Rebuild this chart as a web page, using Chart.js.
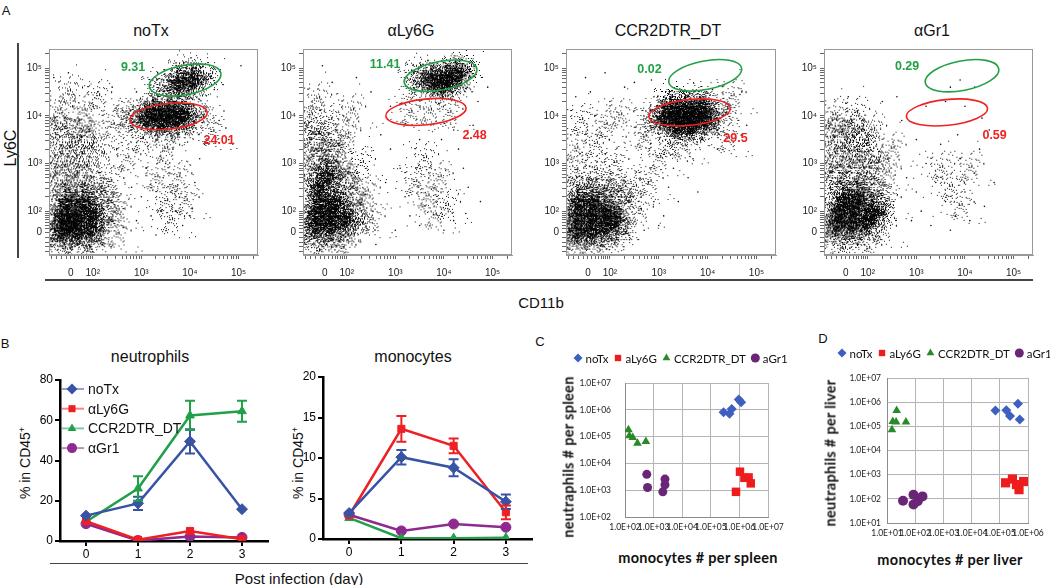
<!DOCTYPE html>
<html>
<head>
<meta charset="utf-8">
<title>Ly6C / CD11b gating and counts</title>
<script src="https://cdn.jsdelivr.net/npm/chart.js@4.4.1/dist/chart.umd.min.js"></script>
<style>
  html, body { margin: 0; padding: 0; background: #fff; }
  body { position: relative; width: 1050px; height: 585px; overflow: hidden;
         font-family: 'Liberation Sans', Arial, sans-serif; color: #111; }
  canvas, .t, .line { position: absolute; }
  .t { transform: translate(-50%, -50%); white-space: nowrap; }
  .rot { transform: translate(-50%, -50%) rotate(-90deg); }
  .xl { font-family: Lato, 'Open Sans', sans-serif; font-weight: bold; font-size: 14.5px; letter-spacing: 0.3px; }
  .line { background: #444; }
</style>
</head>
<body>
<!-- panel A -->
<div class="t" style="left:6px;top:10px;font-size:13px">A</div>
<div class="t" style="left:151px;top:31px;font-size:16px">noTx</div>
<div class="t" style="left:411px;top:31px;font-size:16px">αLy6G</div>
<div class="t" style="left:668px;top:31px;font-size:16px">CCR2DTR_DT</div>
<div class="t" style="left:932px;top:31px;font-size:16px">αGr1</div>
<div class="t rot" style="left:11px;top:148px;font-size:16px">Ly6C</div>
<div class="line" style="left:17px;top:43px;width:1.5px;height:215px"></div>
<div class="line" style="left:45px;top:279px;width:988px;height:1.5px"></div>
<div class="t" style="left:541px;top:302px;font-size:15px">CD11b</div>
<canvas id="flow1" width="257" height="240" style="left:9px;top:40px"></canvas>
<canvas id="flow2" width="257" height="240" style="left:263px;top:40px"></canvas>
<canvas id="flow3" width="258" height="240" style="left:526px;top:40px"></canvas>
<canvas id="flow4" width="257" height="240" style="left:784px;top:40px"></canvas>

<!-- panel B -->
<div class="t" style="left:5px;top:343px;font-size:13px">B</div>
<div class="t" style="left:150px;top:357px;font-size:16px">neutrophils</div>
<div class="t" style="left:413px;top:357px;font-size:16px">monocytes</div>
<div class="t rot" style="left:25px;top:463px;font-size:14px">% in CD45<sup style="font-size:9px">+</sup></div>
<div class="t rot" style="left:298px;top:463px;font-size:14px">% in CD45<sup style="font-size:9px">+</sup></div>
<div class="line" style="left:50px;top:563px;width:478px;height:1px"></div>
<div class="t" style="left:299px;top:578px;font-size:15px">Post infection (day)</div>
<canvas id="neuChart" width="272" height="193" style="left:0px;top:370px"></canvas>
<canvas id="monoChart" width="273" height="194" style="left:263px;top:367px"></canvas>

<!-- panel C / D -->
<div class="t" style="left:540px;top:341px;font-size:13px">C</div>
<div class="t" style="left:823px;top:338px;font-size:13px">D</div>
<canvas id="spleenChart" width="284" height="192" style="left:540px;top:345px"></canvas>
<canvas id="liverChart" width="214" height="203" style="left:836px;top:340px"></canvas>
<div class="t rot xl" style="left:568px;top:457px">neutraphils # per spleen</div>
<div class="t xl" style="left:698px;top:557px">monocytes # per spleen</div>
<div class="t rot xl" style="left:830px;top:453px">neutraphils # per liver</div>
<div class="t xl" style="left:950px;top:559px">monocytes # per liver</div>

<script>
'use strict';

// ===== DATA =====

// flow plots: axis in display decades (0 sits at 1.55)
const FLOW_MAJOR = [1.55, 2, 3, 4, 5];
const FLOW_MAJOR_LABELS = ['0', '10²', '10³', '10⁴', '10⁵'];
const FLOW_LOW_MINOR = [1.15, 1.25, 1.35, 1.45, 1.63, 1.7, 1.76, 1.82, 1.87, 1.91, 1.95];

// event clouds [CD11b, Ly6C], grouped by density
const NOTX_SPARSE = [[1.3,4.1],[1.8,4.1],[2.2,3.2],[2.35,2.6],[2.5,2.0],[2.5,1.5],[1.4,1.2],[1.9,1.2],[2.4,3.8],[2.7,3.1],[2.7,4.0],[3.0,3.5],[4.45,3.65],[3.5,3.3],[3.3,2.7],[3.75,2.7],[3.5,2.2],[3.9,2.2],[3.6,1.8],[2.1,4.4],[1.5,4.5]];
const NOTX_MID = [[1.2,1.4],[1.6,1.35],[2.0,1.4],[2.25,1.8],[2.25,2.2],[1.3,2.55],[1.7,2.55],[2.05,2.5],[1.3,2.95],[1.75,2.95],[1.4,3.35],[1.85,3.35],[1.3,3.75],[1.8,3.7],[2.85,3.9],[4.15,4.0],[3.4,3.7],[3.8,3.75],[3.4,4.55],[4.3,4.8],[3.8,4.5],[3.95,4.9]];
const NOTX_DENSE = [[1.35,1.6],[1.65,1.6],[1.95,1.65],[1.35,1.9],[1.65,1.9],[1.95,1.95],[1.45,2.2],[1.8,2.2],[1.5,1.75],[3.1,3.95],[3.4,3.9],[3.7,3.95],[3.25,4.1],[3.55,4.1],[3.85,4.05],[3.75,4.7],[4.05,4.75]];
const NOTX_EVENTS = [[3.1,2.9],[3.3,2.6],[3.5,3.0],[3.6,2.4],[3.8,2.8],[3.4,2.2],[3.7,2.0],[3.9,2.3],[4.1,2.6],[3.2,1.9],[3.55,1.75],[3.85,1.7],[4.05,2.05],[3.0,2.3],[4.2,3.1],[3.65,3.3],[3.95,3.45],[4.3,3.4],[4.6,3.9],[4.7,4.1],[4.5,4.55],[2.9,4.5],[2.6,4.3],[2.4,4.6],[2.1,4.5],[1.6,4.45],[1.2,4.8],[1.5,4.9],[2.8,2.5],[2.9,1.8],[3.3,1.5],[2.2,1.3],[2.0,1.15],[5.05,5.05],[4.8,3.5],[4.0,1.9],[3.45,2.7],[3.75,2.55]];

const LY6G_SPARSE = [[1.25,4.0],[1.65,3.9],[1.4,4.35],[2.0,3.6],[2.1,4.1],[2.3,3.0],[2.4,2.4],[2.5,1.8],[1.4,1.15],[1.9,1.2],[3.6,3.1],[3.9,2.7],[3.65,2.3],[4.05,2.1],[3.8,1.9],[3.4,2.6],[3.3,4.05],[3.7,4.1],[4.1,4.05]];
const LY6G_MID = [[1.2,1.45],[1.55,1.4],[1.9,1.5],[2.2,1.75],[2.15,2.15],[2.0,2.5],[1.3,2.9],[1.65,3.05],[1.35,3.3],[1.7,3.4],[1.3,3.65],[1.9,2.8],[3.45,4.7],[4.4,4.95],[3.6,4.85],[4.2,4.65]];
const LY6G_DENSE = [[1.35,1.7],[1.65,1.7],[1.35,1.95],[1.65,1.95],[1.95,1.85],[1.45,2.2],[1.75,2.2],[1.4,2.5],[1.6,2.75],[3.75,4.75],[4.05,4.8],[4.25,4.9],[3.95,4.65]];
const LY6G_EVENTS = [[2.9,3.3],[3.1,2.9],[3.2,2.3],[3.3,1.9],[3.5,3.5],[4.3,3.3],[4.4,2.9],[4.5,2.5],[4.2,1.8],[4.0,1.6],[3.5,1.7],[2.8,2.6],[2.7,3.6],[2.9,4.2],[2.5,4.5],[2.2,4.8],[1.7,4.7],[1.5,5.05],[4.7,4.3],[4.9,4.6],[4.6,3.8],[2.6,1.3],[3.0,1.6],[4.75,2.2],[4.45,1.95],[3.95,3.5],[4.2,3.7]];

const CCR2_SPARSE = [[1.3,2.85],[1.7,2.85],[1.3,3.3],[1.7,3.4],[2.1,3.0],[2.5,2.5],[2.6,2.0],[2.8,2.6],[3.0,3.1],[3.2,3.4],[2.7,3.55],[1.4,3.9],[1.9,3.8],[4.4,3.5],[4.5,4.4],[2.2,4.0],[3.5,3.35]];
const CCR2_MID = [[1.2,1.35],[1.55,1.35],[1.9,1.4],[2.2,1.55],[2.25,2.2],[1.4,2.5],[1.8,2.45],[2.1,2.45],[2.9,3.9],[4.25,4.05],[3.5,3.65],[4.0,3.75],[3.3,4.3],[3.8,4.3]];
const CCR2_DENSE = [[1.3,1.6],[1.6,1.6],[1.9,1.7],[1.3,1.9],[1.6,1.9],[1.9,2.0],[1.35,2.2],[1.65,2.2],[2.1,1.85],[3.1,3.95],[3.4,3.95],[3.7,3.95],[3.95,3.95],[3.25,4.15],[3.55,4.15],[3.85,4.15],[3.35,3.8],[3.65,3.8]];
const CCR2_EVENTS = [[3.2,2.5],[3.4,2.2],[3.1,1.9],[3.6,2.7],[3.7,3.1],[3.3,2.9],[2.9,2.2],[3.0,1.7],[3.8,2.4],[2.4,1.4],[2.7,1.6],[2.0,4.3],[1.6,4.5],[1.3,4.4],[2.5,4.7],[1.5,4.8],[1.9,4.9],[2.3,4.6],[2.9,4.4],[4.7,4.5],[4.8,3.8],[4.2,3.3],[3.9,3.5],[4.1,4.55],[2.85,4.75],[1.2,3.6]];

const GR1_SPARSE = [[1.3,4.0],[1.75,4.05],[2.1,3.7],[2.4,2.8],[2.4,2.2],[2.3,1.6],[1.5,1.2],[2.0,1.2],[2.5,3.3],[3.7,2.5],[3.9,2.1],[3.5,2.9],[4.1,2.9]];
const GR1_MID = [[1.2,1.5],[1.55,1.45],[1.9,1.55],[2.2,1.95],[2.15,2.35],[1.3,2.6],[1.65,2.6],[2.0,2.7],[1.3,2.95],[1.7,3.05],[1.4,3.35],[1.85,3.4],[1.35,3.7],[1.75,3.7],[2.1,3.05]];
const GR1_DENSE = [[1.35,1.75],[1.65,1.75],[1.95,1.8],[1.4,2.0],[1.7,2.05],[1.5,2.25],[1.8,2.3],[2.1,2.0]];
const GR1_EVENTS = [[3.0,3.5],[3.2,3.0],[3.4,2.6],[3.6,2.2],[3.8,1.9],[4.0,2.4],[4.2,2.8],[4.3,3.3],[3.9,3.1],[3.5,3.4],[3.1,2.0],[3.3,1.7],[4.1,1.8],[4.4,2.1],[3.7,1.6],[2.8,2.7],[2.7,3.9],[3.2,4.2],[3.6,4.3],[4.0,4.2],[4.2,4.6],[3.9,4.75],[3.7,4.6],[4.5,3.7],[4.6,2.6],[2.6,4.4],[2.3,4.3],[1.6,4.4],[3.0,2.4],[3.85,3.6],[4.35,3.95],[2.9,1.8]];

// gates: [centre x, centre y, radius x, radius y, tilt deg] in display decades
const GATE_GREEN = [[3.90,4.75,0.75,0.31,-11],[3.93,4.84,0.76,0.30,-11],[3.95,4.85,0.76,0.30,-11],[3.94,4.84,0.77,0.31,-11]];
const GATE_RED = [[3.56,3.99,0.80,0.27,-6],[3.63,4.08,0.83,0.27,-6],[3.63,4.07,0.84,0.27,-6],[3.63,4.07,0.84,0.27,-6]];
const GREEN_PCT = ['9.31', '11.41', '0.02', '0.29'];
const RED_PCT = ['24.01', '2.48', '29.5', '0.59'];
const GREEN_PCT_AT = [[2.83,5.01],[2.79,5.07],[2.81,4.97],[2.81,5.03]];
const RED_PCT_AT = [[4.6,3.47],[4.63,3.58],[4.57,3.52],[4.61,3.58]];

// panel B: % in CD45+
const DAYS = [0, 1, 2, 3];
const GROUPS_B = ['noTx', 'αLy6G', 'CCR2DTR_DT', 'αGr1'];
const NEU_NOTX = [12.6, 18.7, 49.5, 15.8];
const NEU_NOTX_ERR = [0.8, 3.3, 6.0, 0.8];
const NEU_LY6G = [9.8, 0.6, 5.0, 0.9];
const NEU_LY6G_ERR = [0.6, 0.3, 0.8, 0.4];
const NEU_CCR2 = [9.6, 26.1, 62.4, 64.5];
const NEU_CCR2_ERR = [1.0, 6.1, 7.3, 5.2];
const NEU_GR1 = [8.6, 0.2, 2.2, 1.8];
const NEU_GR1_ERR = [0.5, 0.2, 0.3, 0.3];
const MONO_NOTX = [3.2, 10.1, 8.8, 4.6];
const MONO_NOTX_ERR = [0.2, 0.9, 1.05, 0.9];
const MONO_LY6G = [2.9, 13.6, 11.5, 3.3];
const MONO_LY6G_ERR = [0.2, 1.6, 0.9, 0.85];
const MONO_CCR2 = [2.6, 0.1, 0.1, 0.15];
const MONO_CCR2_ERR = [0.1, 0.05, 0.05, 0.05];
const MONO_GR1 = [3.0, 1.0, 1.85, 1.45];
const MONO_GR1_ERR = [0.1, 0.1, 0.1, 0.1];

// panels C / D: cell counts per organ
const GROUPS_CD = ['noTx', 'aLy6G', 'CCR2DTR_DT', 'aGr1'];
const SPLEEN_NOTX_MONO = [2.8e5, 4.5e5, 5.4e5, 9.5e5, 1.15e6];
const SPLEEN_NOTX_NEU = [8.1e5, 7.1e5, 1.07e6, 2.4e6, 1.9e6];
const SPLEEN_LY6G_MONO = [1.05e6, 1.5e6, 2.1e6, 2.5e6, 7.6e5];
const SPLEEN_LY6G_NEU = [4.9e3, 2.9e3, 3.0e3, 1.8e3, 870];
const SPLEEN_CCR2_MONO = [132, 142, 187, 273, 537];
const SPLEEN_CCR2_NEU = [1.8e5, 1.07e5, 9.2e4, 5.6e4, 6.5e4];
const SPLEEN_GR1_MONO = [578, 614, 2.1e3, 2.5e3, 2.5e3];
const SPLEEN_GR1_NEU = [3.9e3, 1.26e3, 870, 1.6e3, 2.6e3];
const LIVER_NOTX_MONO = [7.0e4, 1.7e5, 2.3e5, 4.4e5, 5.1e5];
const LIVER_NOTX_NEU = [4.5e5, 4.6e5, 2.7e5, 8.7e5, 1.9e5];
const LIVER_LY6G_MONO = [1.6e5, 2.8e5, 4.8e5, 7.0e5, 3.9e5];
const LIVER_LY6G_NEU = [460, 660, 240, 520, 390];
const LIVER_CCR2_MONO = [15, 16, 21, 22, 47];
const LIVER_CCR2_NEU = [7.2e4, 1.6e5, 1.5e5, 4.5e5, 1.5e5];
const LIVER_GR1_MONO = [37, 87, 87, 123, 181];
const LIVER_GR1_NEU = [83, 148, 58, 79, 126];

// ===== STYLE =====

const FONT = "'Liberation Sans', Arial, sans-serif";
const XL_FONT = "Lato, 'Open Sans', sans-serif";
Chart.defaults.font.family = FONT;
Chart.defaults.animation = false;
Chart.defaults.events = [];
Chart.defaults.layout.autoPadding = false;
Chart.defaults.plugins.legend.display = false;
Chart.defaults.plugins.tooltip.enabled = false;

const B_COLORS = ['#3953a4', '#ed2024', '#1fa049', '#8e2a8f'];
const CD_COLORS = ['#3d5fbf', '#ee1c1c', '#2a8a2a', '#6a2576'];
const STYLES = ['rectRot', 'rect', 'triangle', 'circle'];
const GREEN = '#22a046';
const RED = '#ee2222';

const pts = (arr) => arr.map(([x, y]) => ({ x, y }));

function drawMarker(ctx, style, x, y, r, color) {
  ctx.save();
  ctx.fillStyle = color;
  ctx.beginPath();
  if (style === 'circle') {
    ctx.arc(x, y, r, 0, Math.PI * 2);
  } else if (style === 'rect') {
    const h = r * Math.SQRT1_2;
    ctx.rect(x - h, y - h, 2 * h, 2 * h);
  } else if (style === 'rectRot') {
    ctx.moveTo(x, y - r); ctx.lineTo(x + r, y); ctx.lineTo(x, y + r); ctx.lineTo(x - r, y);
  } else {
    for (let k = 0; k < 3; k++) {
      const a = k * 2 * Math.PI / 3;
      ctx[k ? 'lineTo' : 'moveTo'](x + Math.sin(a) * r, y - Math.cos(a) * r);
    }
  }
  ctx.closePath();
  ctx.fill();
  ctx.restore();
}

// speckled soft disc used as point style for the event clouds
function speckle(sigma, peak, seed) {
  const R = Math.ceil(sigma * 2.5), n = 2 * R + 1;
  const c = document.createElement('canvas');
  c.width = c.height = n;
  const g = c.getContext('2d');
  const img = g.createImageData(n, n);
  for (let j = 0; j < n; j++) {
    for (let i = 0; i < n; i++) {
      const d2 = (i - R) * (i - R) + (j - R) * (j - R);
      const p = peak * Math.exp(-d2 / (2 * sigma * sigma));
      const h = Math.sin(i * 127.1 + j * 311.7 + seed * 74.7) * 43758.5453;
      if (h - Math.floor(h) < p) img.data[(j * n + i) * 4 + 3] = 240;
    }
  }
  g.putImageData(img, 0, 0);
  return c;
}
const SPRITE_DENSE = speckle(8, 0.8, 1);
const SPRITE_MID = speckle(9, 0.3, 2);
const SPRITE_SPARSE = speckle(11, 0.1, 3);

// ===== PLUGINS =====

const framePlugin = {
  id: 'frame',
  afterDatasetsDraw(chart) {
    const { ctx, chartArea: a } = chart;
    ctx.save();
    ctx.strokeStyle = '#999';
    ctx.lineWidth = 1;
    ctx.strokeRect(a.left + 0.5, a.top + 0.5, a.right - a.left - 1, a.bottom - a.top - 1);
    ctx.restore();
  }
};

const gatePlugin = {
  id: 'gates',
  afterDatasetsDraw(chart, args, opts) {
    const { ctx, scales: { x, y } } = chart;
    (opts.items || []).forEach(g => {
      const [gx, gy, grx, gry, tilt] = g.gate;
      const cx = x.getPixelForValue(gx), cy = y.getPixelForValue(gy);
      const rx = Math.abs(x.getPixelForValue(gx + grx) - cx);
      const ry = Math.abs(y.getPixelForValue(gy + gry) - cy);
      ctx.save();
      ctx.strokeStyle = g.color;
      ctx.lineWidth = 1.6;
      ctx.beginPath();
      ctx.ellipse(cx, cy, rx, ry, tilt * Math.PI / 180, 0, Math.PI * 2);
      ctx.stroke();
      ctx.fillStyle = g.color;
      ctx.font = 'bold 12.5px ' + FONT;
      ctx.textAlign = 'center';
      ctx.textBaseline = 'middle';
      ctx.fillText(g.text, x.getPixelForValue(g.at[0]), y.getPixelForValue(g.at[1]));
      ctx.restore();
    });
  }
};

const errorBarPlugin = {
  id: 'errorBars',
  afterDatasetsDraw(chart) {
    const { ctx, scales: { y } } = chart;
    chart.data.datasets.forEach((ds, i) => {
      if (!ds.errors) return;
      const meta = chart.getDatasetMeta(i);
      ctx.save();
      ctx.strokeStyle = ds.borderColor;
      ctx.lineWidth = 2;
      meta.data.forEach((pt, j) => {
        const v = ds.data[j].y, e = ds.errors[j];
        const y1 = y.getPixelForValue(v + e), y2 = y.getPixelForValue(Math.max(0, v - e));
        if (Math.abs(y2 - y1) < 9) return;
        ctx.beginPath();
        ctx.moveTo(pt.x, y1); ctx.lineTo(pt.x, y2);
        ctx.moveTo(pt.x - 5, y1); ctx.lineTo(pt.x + 5, y1);
        ctx.moveTo(pt.x - 5, y2); ctx.lineTo(pt.x + 5, y2);
        ctx.stroke();
      });
      ctx.restore();
    });
  }
};

const lineLegendPlugin = {
  id: 'lineLegend',
  afterDraw(chart, args, o) {
    if (!o.show) return;
    const { ctx, chartArea: a } = chart;
    chart.data.datasets.forEach((d, i) => {
      const x = a.left + o.x0, y = a.top + o.y0 + i * o.dy;
      ctx.save();
      ctx.strokeStyle = d.borderColor;
      ctx.globalAlpha = 0.55;
      ctx.lineWidth = 2;
      ctx.beginPath(); ctx.moveTo(x, y); ctx.lineTo(x + 22, y); ctx.stroke();
      ctx.globalAlpha = 1;
      drawMarker(ctx, d.pointStyle, x + 10, y, d.pointRadius, d.borderColor);
      ctx.fillStyle = '#111';
      ctx.font = '14px ' + FONT;
      ctx.textBaseline = 'middle';
      ctx.fillText(d.label, x + 26, y + 1);
      ctx.restore();
    });
  }
};

const rowLegendPlugin = {
  id: 'rowLegend',
  afterDraw(chart, args, o) {
    const { ctx, chartArea: a } = chart;
    let x = a.left + o.x0;
    const y = a.top + o.y0;
    ctx.save();
    ctx.font = o.font;
    ctx.textBaseline = 'middle';
    chart.data.datasets.forEach(d => {
      drawMarker(ctx, d.pointStyle, x, y, o.r, d.backgroundColor);
      const tx = x + o.r + 3;
      ctx.fillStyle = '#111';
      ctx.fillText(d.label, tx, y + 1);
      x = tx + ctx.measureText(d.label).width + 5 + o.r;
    });
    ctx.restore();
  }
};

// ===== PANEL A: flow plots =====

function flowTicks() {
  const t = FLOW_MAJOR.concat(FLOW_LOW_MINOR);
  [2, 3, 4, 5].forEach(n => {
    for (let k = 2; k <= 9; k++) {
      const v = n + Math.log10(k);
      if (v < 5.4) t.push(v);
    }
  });
  return t.sort((a, b) => a - b).map(v => ({ value: v }));
}

function flowLabel(v) {
  const i = FLOW_MAJOR.findIndex(m => Math.abs(m - v) < 1e-6);
  return i < 0 ? '' : FLOW_MAJOR_LABELS[i];
}

function flowScale(axis) {
  return {
    type: 'linear',
    min: axis === 'x' ? 1.1 : 1.08,
    max: 5.4,
    afterBuildTicks: (s) => { s.ticks = flowTicks(); },
    afterFit: (s) => { if (axis === 'x') s.height = 25; else s.width = 40; },
    ticks: {
      autoSkip: false, maxRotation: 0,
      padding: axis === 'x' ? 8 : 3,
      color: '#222',
      font: { size: 10 },
      callback: flowLabel,
    },
    grid: { drawOnChartArea: false, tickLength: 4, color: '#666' },
    border: { color: '#999' },
  };
}

function initFlow(id, clouds, k) {
  const cloud = (arr, sprite) => ({
    data: pts(arr),
    pointStyle: sprite,
    pointRadius: sprite.width / 2, pointHoverRadius: sprite.width / 2,
    pointBorderWidth: 0,
  });

  new Chart(document.getElementById(id), {
    type: 'scatter',
    data: {
      datasets: [
        cloud(clouds[0], SPRITE_SPARSE),
        cloud(clouds[1], SPRITE_MID),
        cloud(clouds[2], SPRITE_DENSE),
        { data: pts(clouds[3]), backgroundColor: '#111', pointRadius: 0.8, pointBorderWidth: 0 },
      ]
    },
    options: {
      responsive: false,
      layout: { autoPadding: false, padding: { top: 3, right: 8, left: 0, bottom: 0 } },
      scales: { x: flowScale('x'), y: flowScale('y') },
      plugins: {
        gates: {
          items: [
            { gate: GATE_GREEN[k], color: GREEN, text: GREEN_PCT[k], at: GREEN_PCT_AT[k] },
            { gate: GATE_RED[k], color: RED, text: RED_PCT[k], at: RED_PCT_AT[k] },
          ]
        }
      }
    },
    plugins: [framePlugin, gatePlugin],
  });
}

// ===== PANEL B: time course =====

function initTimeCourse(id, series, errors, ymax, step, showLegend) {
  const axis = (extra) => ({
    ...extra,
    grid: { drawOnChartArea: false, tickLength: 5, color: '#000', lineWidth: 2 },
    border: { color: '#000', width: 2.5 },
  });

  new Chart(document.getElementById(id), {
    type: 'line',
    data: {
      datasets: series.map((s, i) => ({
        label: GROUPS_B[i],
        data: DAYS.map((d, j) => ({ x: d, y: s[j] })),
        errors: errors[i],
        borderColor: B_COLORS[i],
        backgroundColor: B_COLORS[i],
        pointBackgroundColor: B_COLORS[i],
        pointBorderColor: B_COLORS[i],
        pointStyle: STYLES[i],
        pointRadius: i === 0 ? 5.5 : 5,
        pointBorderWidth: 1,
        borderWidth: 2.5,
        tension: 0,
      }))
    },
    options: {
      responsive: false,
      layout: { autoPadding: false, padding: { top: 10, right: 4 } },
      scales: {
        x: axis({
          type: 'linear', min: -0.5, max: 3.5,
          afterBuildTicks: (s) => { s.ticks = DAYS.map(v => ({ value: v })); },
          afterFit: (s) => { s.height = 22; },
          ticks: { color: '#000', font: { size: 12 }, padding: 1 },
        }),
        y: axis({
          min: 0, max: ymax,
          afterFit: (s) => { s.width = 60; },
          ticks: { stepSize: step, color: '#000', font: { size: 12 }, padding: 2 },
        }),
      },
      plugins: { lineLegend: { show: showLegend, x0: 2, y0: 9, dy: 19.7 } }
    },
    plugins: [errorBarPlugin, lineLegendPlugin],
  });
}

// ===== PANELS C / D: counts =====

function initCounts(id, mono, neu, o) {
  const logAxis = (min, max, extra) => ({
    type: 'logarithmic', min, max,
    afterBuildTicks: (s) => {
      const t = [];
      for (let e = Math.log10(min); e <= Math.log10(max) + 1e-9; e++) t.push({ value: Math.pow(10, e) });
      s.ticks = t;
    },
    ticks: {
      autoSkip: false, maxRotation: 0, color: '#222',
      font: { family: XL_FONT, size: 8.5 },
      callback: (v) => '1.0E+' + String(Math.round(Math.log10(v))).padStart(2, '0'),
      ...extra.ticks,
    },
    afterFit: extra.afterFit,
    grid: { color: '#b4b4b4', drawTicks: false },
    border: { color: '#8c8c8c' },
  });

  new Chart(document.getElementById(id), {
    type: 'scatter',
    data: {
      datasets: mono.map((m, i) => ({
        label: GROUPS_CD[i],
        data: m.map((v, j) => ({ x: v, y: neu[i][j] })),
        backgroundColor: CD_COLORS[i],
        pointStyle: STYLES[i],
        pointRadius: o.radius[i],
        pointBorderWidth: 0,
      }))
    },
    options: {
      responsive: false,
      layout: { autoPadding: false, padding: { top: 38, right: o.padRight } },
      scales: {
        x: logAxis(o.xmin, o.xmax, { ticks: { padding: 5 }, afterFit: (s) => { s.height = 20; } }),
        y: logAxis(o.ymin, o.ymax, { ticks: { padding: o.yPad }, afterFit: (s) => { s.width = o.yWidth; } }),
      },
      plugins: { rowLegend: { x0: o.legendX, y0: -25, r: 4.5, font: '11.5px ' + XL_FONT } }
    },
    plugins: [rowLegendPlugin],
  });
}

// ===== INIT =====

initFlow('flow1', [NOTX_SPARSE, NOTX_MID, NOTX_DENSE, NOTX_EVENTS], 0);
initFlow('flow2', [LY6G_SPARSE, LY6G_MID, LY6G_DENSE, LY6G_EVENTS], 1);
initFlow('flow3', [CCR2_SPARSE, CCR2_MID, CCR2_DENSE, CCR2_EVENTS], 2);
initFlow('flow4', [GR1_SPARSE, GR1_MID, GR1_DENSE, GR1_EVENTS], 3);

initTimeCourse('neuChart',
  [NEU_NOTX, NEU_LY6G, NEU_CCR2, NEU_GR1],
  [NEU_NOTX_ERR, NEU_LY6G_ERR, NEU_CCR2_ERR, NEU_GR1_ERR], 80, 20, true);
initTimeCourse('monoChart',
  [MONO_NOTX, MONO_LY6G, MONO_CCR2, MONO_GR1],
  [MONO_NOTX_ERR, MONO_LY6G_ERR, MONO_CCR2_ERR, MONO_GR1_ERR], 20, 5, false);

initCounts('spleenChart',
  [SPLEEN_NOTX_MONO, SPLEEN_LY6G_MONO, SPLEEN_CCR2_MONO, SPLEEN_GR1_MONO],
  [SPLEEN_NOTX_NEU, SPLEEN_LY6G_NEU, SPLEEN_CCR2_NEU, SPLEEN_GR1_NEU],
  { xmin: 1e2, xmax: 1e7, ymin: 1e2, ymax: 1e7, padRight: 56, yWidth: 85, yPad: 14,
    legendX: -47, radius: [5, 6, 5, 4.5] });
initCounts('liverChart',
  [LIVER_NOTX_MONO, LIVER_LY6G_MONO, LIVER_CCR2_MONO, LIVER_GR1_MONO],
  [LIVER_NOTX_NEU, LIVER_LY6G_NEU, LIVER_CCR2_NEU, LIVER_GR1_NEU],
  { xmin: 1e1, xmax: 1e6, ymin: 1e1, ymax: 1e7, padRight: 22, yWidth: 51, yPad: 6,
    legendX: -45, radius: [5, 6.5, 5, 5] });
</script>
</body>
</html>
